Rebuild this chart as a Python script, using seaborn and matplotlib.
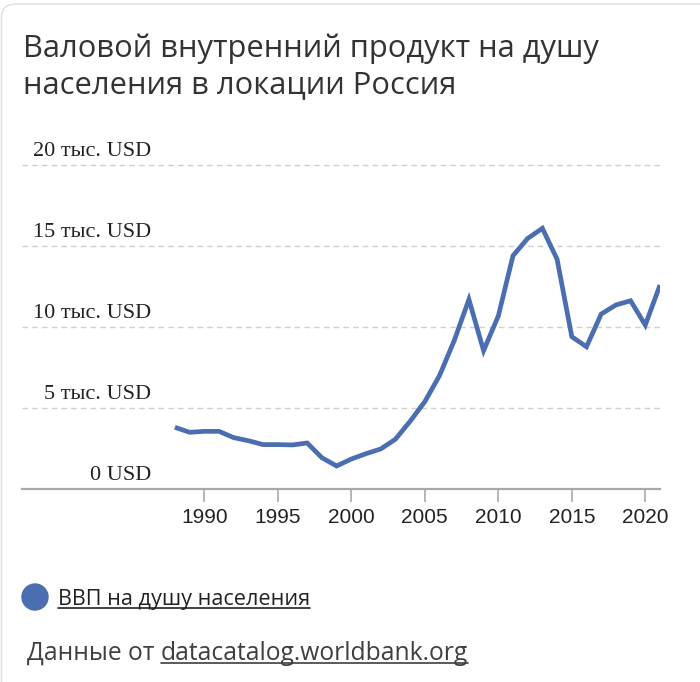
import matplotlib
matplotlib.use("Agg")
import matplotlib.pyplot as plt
import seaborn as sns
import pandas as pd
from matplotlib.patches import Circle, FancyBboxPatch
from matplotlib.lines import Line2D

years = list(range(1988, 2022))
gdp_k = [3.81, 3.50, 3.56, 3.56, 3.17, 2.98, 2.74, 2.74, 2.72, 2.84,
         1.93, 1.42, 1.85, 2.18, 2.47, 3.07, 4.18, 5.39, 7.00, 9.16,
         11.70, 8.54, 10.68, 14.40, 15.47, 16.09, 14.18, 9.40, 8.78, 10.80,
         11.36, 11.62, 10.12, 12.59]
ytick_vals = [0, 5, 10, 15, 20]
ytick_labels = ["0 USD", "5 тыс. USD", "10 тыс. USD", "15 тыс. USD", "20 тыс. USD"]
xtick_vals = [1990, 1995, 2000, 2005, 2010, 2015, 2020]
title_lines = ["Валовой внутренний продукт на душу", "населения в локации Россия"]
legend_label = "ВВП на душу населения"
source_prefix = "Данные от "
source_link = "datacatalog.worldbank.org"

df = pd.DataFrame({"year": years, "gdp": gdp_k})

sns.set_theme(style="white")
plt.rcParams['font.family'] = ['Open Sans', 'DejaVu Sans']

W, H = 700, 682
fig = plt.figure(figsize=(W / 100, H / 100), dpi=100)

def px(x, y):
    return x / W, 1 - y / H

# card border (only top/left visible)
fig.add_artist(FancyBboxPatch((1.5 / W, -0.2), 1.3, 1.2 - 4 / H,
                              boxstyle="round,pad=0,rounding_size=0.02",
                              transform=fig.transFigure, fill=False,
                              edgecolor="#e2e2e2", linewidth=1.2))

ax_left, ax_right = 22, 660
y0, ypx = 489, 16.2
ytop = 20.5
ax_top = y0 - ytop * ypx
ax = fig.add_axes([ax_left / W, 1 - y0 / H, (ax_right - ax_left) / W, (y0 - ax_top) / H])

sns.lineplot(data=df, x="year", y="gdp", ax=ax, color="#4A6EB0", linewidth=3.4,
             solid_joinstyle="miter", solid_capstyle="butt", legend=False)

xmin = 1990 - (204.3 - ax_left) / 14.7
xmax = 2020 + (ax_right - 645.3) / 14.7
ax.set_xlim(xmin, xmax)
ax.set_ylim(0, ytop)

for s in ["top", "right", "left"]:
    ax.spines[s].set_visible(False)
ax.spines["bottom"].set_color("#a8a8a8")
ax.spines["bottom"].set_linewidth(1.6)

for v in ytick_vals[1:]:
    ax.axhline(v, color="#cfcfcf", linewidth=1.0, linestyle=(0, (4, 3)), zorder=0)

ax.set_yticks([])
ax.set_xticks(xtick_vals)
ax.set_xticklabels([str(v) for v in xtick_vals], fontfamily="Liberation Sans",
                   fontsize=15, color="#222222")
ax.tick_params(axis="x", direction="out", length=9, width=1.2, color="#a8a8a8",
               pad=5, bottom=True)
ax.set_xlabel("")
ax.set_ylabel("")

lab_x = (151 - ax_left) / (ax_right - ax_left)
for v, lab in zip(ytick_vals, ytick_labels):
    ax.text(lab_x, v + 9 / ypx, lab, transform=ax.get_yaxis_transform(),
            ha="right", va="baseline", fontfamily="Liberation Serif",
            fontsize=16, color="#222222")

# title
fig.text(*px(23, 57), title_lines[0], ha="left", va="baseline", fontsize=22.2,
         color="#333333")
fig.text(*px(23, 93), title_lines[1], ha="left", va="baseline", fontsize=22.2,
         color="#333333")

# legend
fig.add_artist(Circle((35 / 100, (H - 597) / 100), 0.13,
                      transform=fig.dpi_scale_trans, color="#4A6EB0"))
leg_t = fig.text(*px(58, 605), legend_label, ha="left", va="baseline",
                 fontsize=15.6, color="#222222")

src1 = fig.text(*px(27, 660), source_prefix, ha="left", va="baseline",
                fontsize=17.7, color="#3c4043")
fig.canvas.draw()
r = fig.canvas.get_renderer()
bb = src1.get_window_extent(r)
src2 = fig.text(bb.x1 / W, 1 - 660 / H, source_link, ha="left", va="baseline",
                fontsize=17.7, color="#3c4043")
fig.canvas.draw()

def underline(t, ypix, color):
    b = t.get_window_extent(r)
    fig.add_artist(Line2D([b.x0 / W, b.x1 / W], [1 - ypix / H, 1 - ypix / H],
                          transform=fig.transFigure, color=color, linewidth=1.2))

underline(leg_t, 608, "#222222")
underline(src2, 663, "#3c4043")

fig.savefig("out.png", dpi=100)
